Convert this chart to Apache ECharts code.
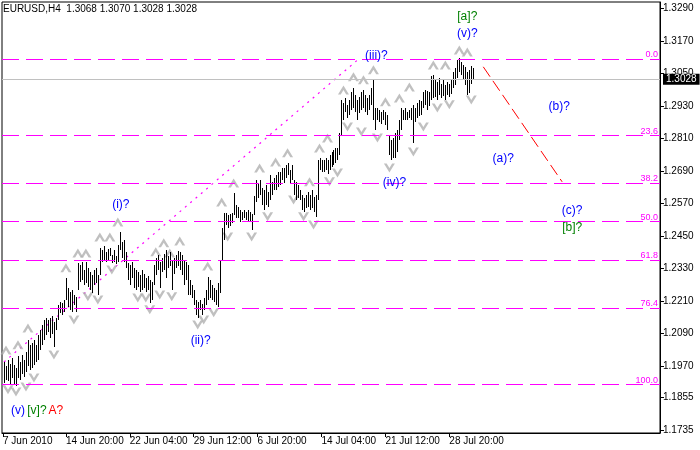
<!DOCTYPE html>
<html><head><meta charset="utf-8">
<script src="https://cdn.jsdelivr.net/npm/echarts@6/dist/echarts.min.js"></script>
<style>html,body{margin:0;padding:0;background:#fff}#c{width:700px;height:450px}</style>
</head><body><div id="c"></div>
<script>
// ---- data (H4 bars, index 0 = 7 Jun 2010 00:00) ----
const firstBarIndex = 4;
const highs = [
1.1986,1.1971,1.1993,1.1979,1.2001,1.1975,1.1964,1.2008,1.1986,1.2012,
1.1993,1.2023,1.2067,1.2049,1.2056,1.2067,1.2049,1.2085,1.2104,1.2122,
1.2141,1.2148,1.2141,1.2148,1.2156,1.2133,1.2148,1.2196,1.2207,1.2204,
1.2214,1.2296,1.2259,1.2244,1.2251,1.2233,1.2226,1.2351,1.2344,1.2355,
1.2325,1.2355,1.2333,1.2318,1.2307,1.2325,1.2333,1.2307,1.2406,1.2399,
1.2414,1.2392,1.2403,1.2406,1.2381,1.2399,1.2377,1.2417,1.2465,1.2428,
1.2436,1.2392,1.2351,1.2344,1.2355,1.2333,1.2325,1.2318,1.2307,1.2325,
1.2310,1.2296,1.2303,1.2288,1.2281,1.2344,1.2370,1.2381,1.2355,1.2370,
1.2384,1.2399,1.2377,1.2392,1.2362,1.2370,1.2381,1.2395,1.2392,1.2381,
1.2362,1.2355,1.2344,1.2288,1.2270,1.2251,1.2214,1.2207,1.2214,1.2200,
1.2222,1.2251,1.2299,1.2288,1.2270,1.2259,1.2251,1.2277,1.2362,1.2480,
1.2535,1.2535,1.2528,1.2532,1.2535,1.2609,1.2565,1.2557,1.2546,1.2539,
1.2546,1.2539,1.2546,1.2539,1.2532,1.2598,1.2657,1.2646,1.2657,1.2628,
1.2620,1.2639,1.2613,1.2675,1.2650,1.2664,1.2675,1.2686,1.2686,1.2701,
1.2701,1.2712,1.2720,1.2694,1.2712,1.2657,1.2650,1.2639,1.2620,1.2602,
1.2591,1.2602,1.2613,1.2602,1.2620,1.2594,1.2602,1.2731,1.2738,1.2731,
1.2731,1.2738,1.2731,1.2749,1.2760,1.2768,1.2775,1.2775,1.2830,1.2952,
1.2941,1.2959,1.2934,1.2952,1.2981,1.2996,1.2970,1.2952,1.2963,1.2981,
1.2989,1.2970,1.2959,1.2970,1.2996,1.3026,1.2922,1.2922,1.2915,1.2908,
1.2915,1.2908,1.2897,1.2823,1.2804,1.2812,1.2830,1.2841,1.2878,1.2922,
1.2915,1.2922,1.2908,1.2915,1.2922,1.2934,1.2922,1.2941,1.2952,1.2948,
1.2981,1.2989,1.2985,1.2981,1.3040,1.3044,1.3026,1.3018,1.3033,1.3011,
1.3026,1.3007,1.3018,1.3011,1.3026,1.3055,1.3070,1.3099,1.3107,1.3092,
1.3081,1.3074,1.3055,1.3063,1.3077,1.3070];
const lows = [
1.1909,1.1920,1.1916,1.1905,1.1927,1.1901,1.1897,1.1927,1.1920,1.1942,
1.1931,1.1949,1.1971,1.1956,1.1964,1.1975,1.1986,1.1993,1.2030,1.2049,
1.2067,1.2085,1.2097,1.2074,1.2089,1.2041,1.2104,1.2141,1.2167,1.2159,
1.2170,1.2214,1.2189,1.2178,1.2170,1.2196,1.2170,1.2251,1.2281,1.2288,
1.2270,1.2277,1.2262,1.2251,1.2240,1.2270,1.2277,1.2233,1.2307,1.2355,
1.2362,1.2355,1.2358,1.2377,1.2351,1.2355,1.2347,1.2355,1.2399,1.2370,
1.2355,1.2333,1.2288,1.2270,1.2296,1.2259,1.2251,1.2262,1.2244,1.2251,
1.2259,1.2244,1.2251,1.2204,1.2214,1.2270,1.2307,1.2325,1.2259,1.2318,
1.2325,1.2296,1.2333,1.2340,1.2251,1.2310,1.2333,1.2340,1.2325,1.2307,
1.2270,1.2288,1.2233,1.2233,1.2222,1.2196,1.2159,1.2148,1.2178,1.2159,
1.2178,1.2196,1.2214,1.2222,1.2214,1.2207,1.2196,1.2189,1.2240,1.2362,
1.2436,1.2491,1.2480,1.2488,1.2499,1.2528,1.2517,1.2517,1.2502,1.2510,
1.2517,1.2510,1.2502,1.2502,1.2473,1.2528,1.2576,1.2591,1.2602,1.2565,
1.2546,1.2565,1.2557,1.2583,1.2602,1.2620,1.2620,1.2631,1.2639,1.2657,
1.2646,1.2664,1.2675,1.2646,1.2657,1.2602,1.2583,1.2591,1.2583,1.2546,
1.2539,1.2554,1.2557,1.2546,1.2554,1.2539,1.2521,1.2583,1.2694,1.2686,
1.2686,1.2694,1.2679,1.2694,1.2705,1.2712,1.2720,1.2731,1.2749,1.2823,
1.2878,1.2908,1.2886,1.2897,1.2915,1.2922,1.2908,1.2878,1.2904,1.2915,
1.2922,1.2908,1.2897,1.2915,1.2934,1.2878,1.2841,1.2878,1.2871,1.2864,
1.2878,1.2860,1.2841,1.2749,1.2731,1.2738,1.2738,1.2760,1.2804,1.2841,
1.2878,1.2878,1.2878,1.2886,1.2878,1.2793,1.2871,1.2886,1.2893,1.2897,
1.2922,1.2934,1.2915,1.2930,1.2952,1.2959,1.2963,1.2952,1.2970,1.2959,
1.2967,1.2952,1.2970,1.2963,1.2974,1.2996,1.3007,1.3033,1.3055,1.3044,
1.3026,1.3007,1.2970,1.2978,1.3011,1.3028];

const xTickIndex = [3.5, 35, 67, 99, 131, 163, 195, 227];
const xTickLabels = ['7 Jun 2010','14 Jun 20:00','22 Jun 04:00','29 Jun 12:00','6 Jul 20:00','14 Jul 04:00','21 Jul 12:00','28 Jul 20:00'];
const yTickValues = [1.3290,1.3170,1.3050,1.2930,1.2810,1.2690,1.2570,1.2450,1.2330,1.2210,1.2090,1.1970,1.1855,1.1735];

const fibLabels = ['0.0','23.6','38.2','50.0','61.8','76.4','100.0'];
const fibPrices = [1.3103,1.2820,1.2644,1.2503,1.2361,1.2185,1.1902];
const lastPrice = 1.3028;
const titleText = 'EURUSD,H4  1.3068 1.3070 1.3028 1.3028';

const upFractalIdx = [5,11,16,35,41,45,52,57,61,80,84,87,92,106,113,119,132,140,146,157,162,166,174,179,184,189,195,202,207,219,225,232,236];
const upFractalPrice = [1.2030,1.2049,1.2111,1.2333,1.2388,1.2388,1.2447,1.2447,1.2502,1.2392,1.2425,1.2388,1.2432,1.2340,1.2576,1.2646,1.2701,1.2723,1.2757,1.2650,1.2775,1.2812,1.2989,1.3037,1.3026,1.3063,1.2945,1.2959,1.3000,1.3081,1.3081,1.3136,1.3129];
const downFractalIdx = [6,10,15,19,29,39,46,51,58,71,75,77,82,88,101,104,109,116,128,136,149,154,159,167,171,176,183,191,197,209,214,221,227,238];
const downFractalPrice = [1.1883,1.1875,1.1894,1.1927,1.2012,1.2141,1.2226,1.2214,1.2325,1.2222,1.2222,1.2178,1.2233,1.2226,1.2122,1.2141,1.2167,1.2447,1.2447,1.2521,1.2583,1.2521,1.2491,1.2650,1.2683,1.2852,1.2834,1.2812,1.2701,1.2760,1.2852,1.2922,1.2934,1.2952];

const channelLine = [[4, 1.1986], [181, 1.3099]];
const forecastLine = [[244, 1.3074], [283.5, 1.2650]];

const annText  = ['(v)','[v]?','A?','(i)?','(ii)?','(iii)?','(iv)?','(v)?','[a]?','(b)?','(a)?','(c)?','[b]?'];
const annIdx   = [11, 20.5, 30, 62.5, 102.5, 190.5, 199.5, 236, 236, 282, 254, 288.5, 288.5];
const annPrice = [1.1805,1.1805,1.1805,1.2565,1.2063,1.3115,1.2646,1.3195,1.3258,1.2926,1.2734,1.2543,1.2480];
const annColor = ['#0000ff','#008000','#ff0000','#0000ff','#0000ff','#0000ff','#0000ff','#0000ff','#008000','#0000ff','#0000ff','#0000ff','#008000'];

// ---- chart ----
const chart = echarts.init(document.getElementById('c'), null, {renderer: 'canvas'});
const FONT = "'Liberation Sans', Arial, sans-serif";
const barData = highs.map((h, k) => [firstBarIndex + k, lows[k], h]);
const upPath = 'path://M6,0 L12,10 L9,10 L6,5 L3,10 L0,10 Z';
const downPath = 'path://M6,10 L12,0 L9,0 L6,5 L3,0 L0,0 Z';

chart.setOption({
  animation: false,
  backgroundColor: '#ffffff',
  grid: {left: 1, right: 40, top: 2, bottom: 17, show: true, borderColor: '#000', borderWidth: 1, backgroundColor: 'transparent'},
  graphic: [{type: 'text', left: 3, top: 4, z: 100, style: {text: titleText, font: '10px ' + FONT, fill: '#000'}}],
  xAxis: {
    type: 'value', min: 3, max: 332.5,
    axisLine: {show: true, lineStyle: {color: '#000'}},
    axisTick: {show: true, length: 4, customValues: xTickIndex, lineStyle: {color: '#000'}},
    axisLabel: {customValues: xTickIndex, align: 'left', margin: 3, fontSize: 10, fontFamily: FONT, color: '#000',
      formatter: v => { const i = xTickIndex.indexOf(v); return i >= 0 ? xTickLabels[i] : ''; }},
    splitLine: {show: false}
  },
  yAxis: {
    type: 'value', position: 'right', min: 1.1724, max: 1.3313,
    axisLine: {show: true, lineStyle: {color: '#000'}},
    axisTick: {show: true, length: 4, customValues: yTickValues, lineStyle: {color: '#000'}},
    axisLabel: {customValues: yTickValues, margin: 3, fontSize: 10, fontFamily: FONT, color: '#000', formatter: v => v.toFixed(4)},
    splitLine: {show: false}
  },
  series: [
    { // fibonacci levels + last price line
      type: 'line', data: [], silent: true,
      markLine: {
        symbol: 'none', silent: true, animation: false, precision: 4,
        data: fibPrices.map((p, i) => ({
          yAxis: p,
          lineStyle: {color: '#ff00ff', type: [17, 7], width: 1},
          label: {show: true, position: 'insideEndTop', formatter: fibLabels[i], color: '#ff00ff', fontSize: 9, fontFamily: FONT, distance: [2, 0]}
        })).concat([{
          yAxis: lastPrice,
          lineStyle: {color: '#c0c0c0', type: 'solid', width: 1},
          label: {show: true, position: 'end', formatter: lastPrice.toFixed(4), color: '#fff', backgroundColor: '#000', padding: [1, 3, 0, 3], fontSize: 10, fontFamily: FONT, distance: 3}
        }])
      }
    },
    {
      type: 'line', data: channelLine, showSymbol: false, silent: true,
      lineStyle: {color: '#ff00ff', type: [2, 5], width: 1.2}
    },
    {
      type: 'line', data: forecastLine, showSymbol: false, silent: true,
      lineStyle: {color: '#ff0000', type: [12, 5], width: 1}
    },
    {
      type: 'scatter', data: upFractalIdx.map((x, i) => [x, upFractalPrice[i]]),
      symbol: upPath, symbolSize: [11, 9], itemStyle: {color: '#b0b0b0'}, silent: true, z: 3
    },
    {
      type: 'scatter', data: downFractalIdx.map((x, i) => [x, downFractalPrice[i]]),
      symbol: downPath, symbolSize: [11, 9], itemStyle: {color: '#b0b0b0'}, silent: true, z: 3
    },
    {
      type: 'custom', data: barData, clip: true, z: 4,
      renderItem: (params, api) => {
        const lo = api.coord([api.value(0), api.value(1)]);
        const hi = api.coord([api.value(0), api.value(2)]);
        const x = Math.round(lo[0]) + 0.5;
        return {type: 'line', shape: {x1: x, y1: Math.round(lo[1]), x2: x, y2: Math.round(hi[1])}, style: {stroke: '#000', lineWidth: 1}};
      }
    },
    {
      type: 'custom', data: annIdx.map((x, i) => [x, annPrice[i]]), z: 5,
      renderItem: (params, api) => {
        const p = api.coord([api.value(0), api.value(1)]);
        const i = params.dataIndex;
        return {type: 'text', x: p[0], y: p[1], style: {text: annText[i], fill: annColor[i], font: '12px ' + FONT, align: 'center', verticalAlign: 'middle'}};
      }
    }
  ]
});
</script>
</body></html>
